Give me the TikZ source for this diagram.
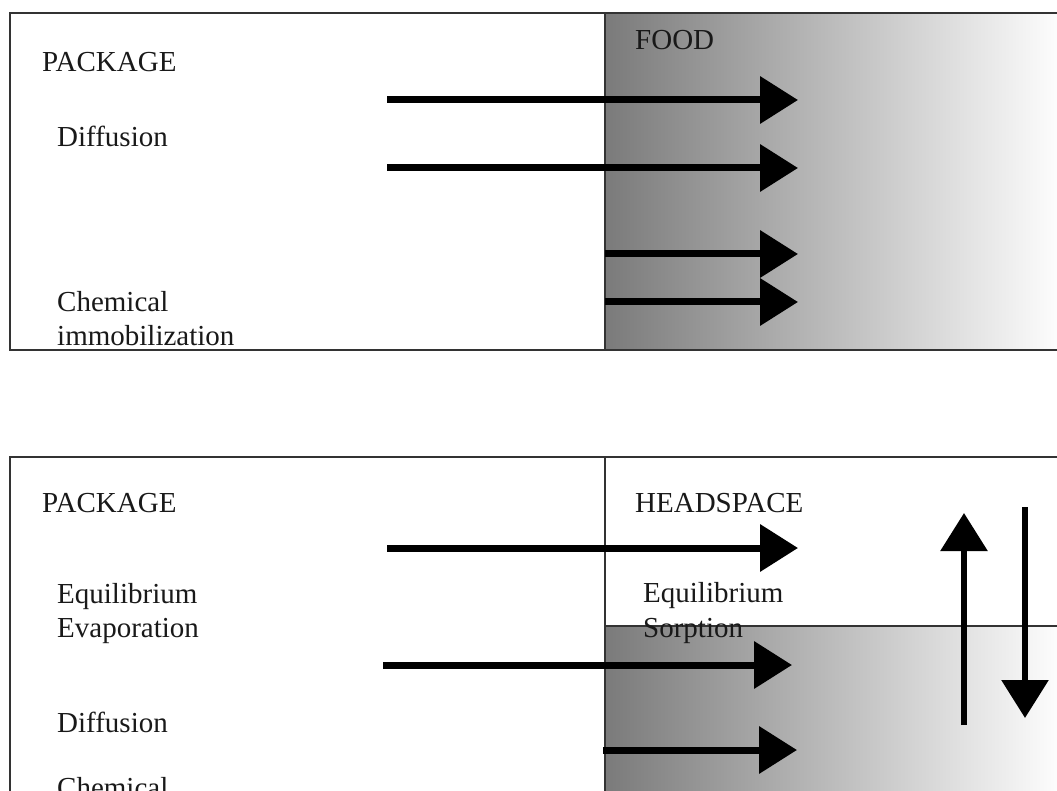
\documentclass[tikz,border=0pt]{standalone}
\usepackage{fontspec}
\setmainfont{Liberation Serif}
\usetikzlibrary{arrows.meta, positioning}

\begin{document}
\begin{tikzpicture}[x=1pt, y=-1pt,
  lbl/.style={anchor=base west, inner sep=0pt, font=\fontsize{29}{34}\selectfont, text=black!90},
  frame/.style={draw=black!80, line width=1.6pt},
  arr/.style={-{Triangle[length=38pt, width=46pt]}, line width=7pt},
  food/.style={left color=black!52, middle color=black!24, right color=black!1}
]
\useasboundingbox (0,0) rectangle (1057,791);
\clip (0,0) rectangle (1057,791);

% top panel: package | food
\shade[food] (605,13) rectangle (1057,350);
\draw[frame] (1070,13) -- (10,13) -- (10,350) -- (1070,350);
\draw[frame] (605,13) -- (605,350);

\node[lbl] (pkgA)  at (42,72)  {PACKAGE};
\node[lbl] (diffA) at (57,147) {Diffusion};
\node[lbl] (chemA) at (57,312) {Chemical};
\node[lbl] (immA)  at (57,346) {immobilization};
\node[lbl] (food)  at (635,50) {FOOD};

\foreach \n/\xs/\yy in {1/387/100, 2/387/168, 3/605/254, 4/605/302} {
  \coordinate (tin\n) at (\xs,\yy);
  \coordinate (tout\n) at (798,\yy);
  \draw[arr] (tin\n) -- (tout\n);
}

% bottom panel: package | headspace over food
\shade[food] (605,626) rectangle (1057,800);
\draw[frame] (1070,457) -- (10,457) -- (10,800);
\draw[frame] (605,457) -- (605,800);
\draw[frame, line width=1.2pt] (605,626) -- (1070,626);

\node[lbl] (pkgB)  at (42,512)  {PACKAGE};
\node[lbl] (eqB)   at (57,603)  {Equilibrium};
\node[lbl] (evapB) at (57,637)  {Evaporation};
\node[lbl] (diffB) at (57,732)  {Diffusion};
\node[lbl] (chemB) at (57,797)  {Chemical};
\node[lbl] (head)  at (635,512) {HEADSPACE};
\node[lbl] (eqH)   at (643,602) {Equilibrium};
\node[lbl] (sorp)  at (643,637) {Sorption};

\foreach \n/\xs/\xe/\yy in {1/387/798/548, 2/383/792/665, 3/603/797/750} {
  \coordinate (bin\n) at (\xs,\yy);
  \coordinate (bout\n) at (\xe,\yy);
  \draw[arr] (bin\n) -- (bout\n);
}

% exchange between headspace and food
\coordinate (upS) at (964,725);
\coordinate (upE) at (964,513);
\coordinate (dnS) at (1025,507);
\coordinate (dnE) at (1025,718);
\draw[arr, line width=6pt] (upS) -- (upE);
\draw[arr, line width=6pt] (dnS) -- (dnE);
\end{tikzpicture}
\end{document}
